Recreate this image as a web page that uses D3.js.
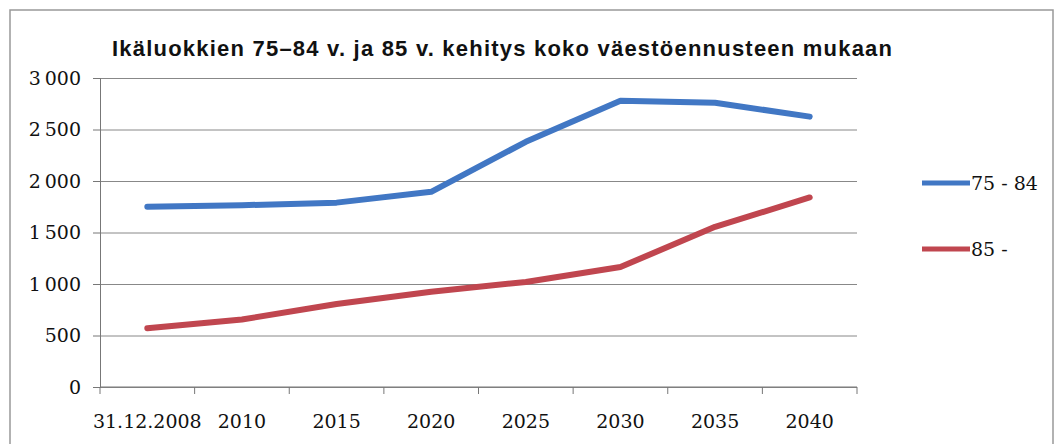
<!DOCTYPE html>
<html>
<head>
<meta charset="utf-8">
<script src="https://cdn.jsdelivr.net/npm/d3@7"></script>
<style>
  body { margin: 0; background: #fff; }
</style>
</head>
<body>
<svg id="chart" width="1063" height="444"></svg>
<script>
var categories = ["31.12.2008", "2010", "2015", "2020", "2025", "2030", "2035", "2040"];
var ageA = [1750, 1765, 1790, 1895, 2380, 2780, 2760, 2625];   // 75 - 84
var ageB = [570, 655, 805, 925, 1020, 1165, 1555, 1840];       // 85 -
var seriesNames = ["75 - 84", "85 -"];
var yTicks = [0, 500, 1000, 1500, 2000, 2500, 3000];

var svg = d3.select("#chart");
var margin = {top: 78, left: 100, right: 206, bottom: 57};
var width = 1063 - margin.left - margin.right,
    height = 444 - margin.top - margin.bottom;
var colors = ["#4177c4", "#c0464f"];

function serif(sel) {
  sel.style("font-family", "'DejaVu Serif', 'Liberation Serif', serif")
     .style("font-size", "19px")
     .style("fill", "#111");
}

// outer frame
svg.append("rect")
  .attr("x", 10).attr("y", 10)
  .attr("width", 1043).attr("height", 450)
  .attr("fill", "none").attr("stroke", "#999").attr("stroke-width", 1.5);

svg.append("text")
  .attr("x", 112).attr("y", 56)
  .attr("textLength", 780)
  .style("font-family", "'Liberation Sans', Arial, sans-serif")
  .style("font-weight", "bold")
  .style("font-size", "22px")
  .attr("fill", "#111")
  .text("Ikäluokkien 75–84 v. ja 85 v. kehitys koko väestöennusteen mukaan");

var g = svg.append("g").attr("transform", "translate(" + margin.left + "," + margin.top + ")");

var x = d3.scaleBand().domain(categories).range([0, width]);
var y = d3.scaleLinear().domain([0, 3000]).range([height, 0]);

// gridlines
g.append("g")
  .call(d3.axisLeft(y).tickValues(yTicks).tickSize(-width).tickFormat(""))
  .call(function(s) {
    s.select(".domain").remove();
    s.selectAll("line").attr("stroke", "#888").attr("stroke-width", 1);
  });

// y axis
var fmt = function(d) { return d >= 1000 ? d3.format(",")(d).replace(",", "\u2009") : d; };
g.append("g")
  .call(d3.axisLeft(y).tickValues(yTicks).tickSize(7).tickPadding(12).tickFormat(fmt))
  .call(function(s) {
    s.select(".domain").attr("stroke", "#777");
    s.selectAll("line").attr("stroke", "#777");
    s.selectAll("text").call(serif);
  });

// x axis: ticks between categories
var xAxis = g.append("g").attr("transform", "translate(0," + height + ")");
xAxis.append("line").attr("x1", 0).attr("x2", width).attr("stroke", "#777");
xAxis.selectAll(".tk").data(categories.concat(["end"])).enter().append("line")
  .attr("x1", function(d, i) { return i * x.step(); })
  .attr("x2", function(d, i) { return i * x.step(); })
  .attr("y1", 0).attr("y2", 7).attr("stroke", "#777");
xAxis.selectAll(".lb").data(categories).enter().append("text")
  .attr("x", function(d) { return x(d) + x.bandwidth() / 2; })
  .attr("y", 41)
  .attr("text-anchor", "middle")
  .call(serif)
  .text(function(d) { return d; });

var line = d3.line()
  .x(function(d, i) { return x(categories[i]) + x.bandwidth() / 2; })
  .y(function(d) { return y(d); });

[ageA, ageB].forEach(function(s, i) {
  g.append("path").datum(s)
    .attr("fill", "none")
    .attr("stroke", colors[i])
    .attr("stroke-width", 6)
    .attr("stroke-linejoin", "round")
    .attr("stroke-linecap", "round")
    .attr("d", line);
});

// legend
var legend = svg.append("g");
seriesNames.forEach(function(n, i) {
  var ly = 183 + i * 66;
  legend.append("line")
    .attr("x1", 922).attr("x2", 970).attr("y1", ly).attr("y2", ly)
    .attr("stroke", colors[i]).attr("stroke-width", 5);
  legend.append("text")
    .attr("x", 971).attr("y", ly + 7)
    .call(serif)
    .text(n);
});
</script>
</body>
</html>
